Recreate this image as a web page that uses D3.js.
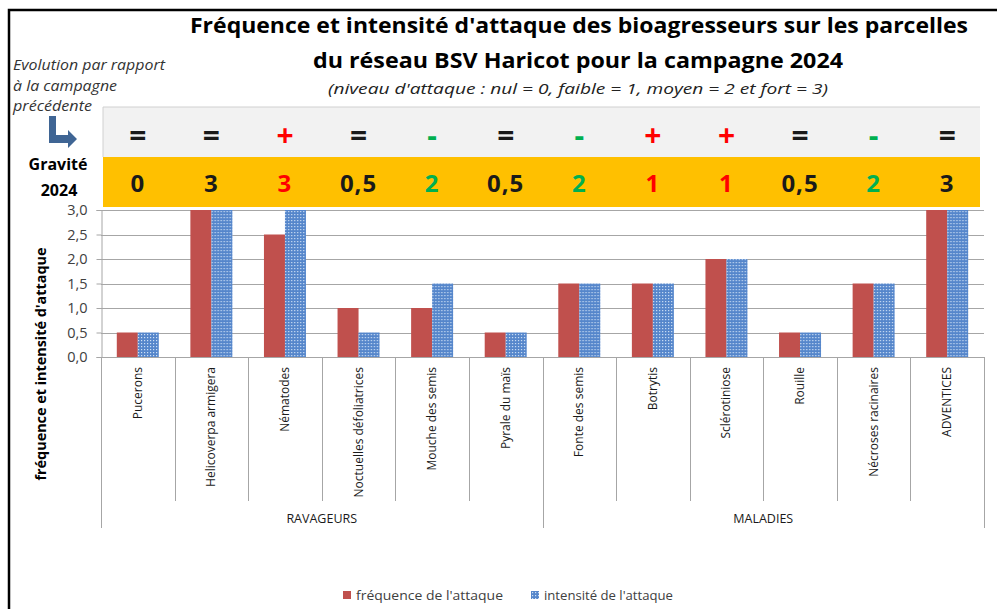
<!DOCTYPE html>
<html><head><meta charset="utf-8">
<script src="https://cdn.jsdelivr.net/npm/d3@7"></script>
<style>
html,body{margin:0;padding:0;background:#fff;}
svg{display:block;font-family:"Open Sans",sans-serif;}
</style></head>
<body>
<svg id="chart" width="997" height="609"></svg>
<script>
const categories = ["Pucerons","Helicoverpa armigera","Nématodes","Noctuelles défoliatrices","Mouche des semis","Pyrale du maïs","Fonte des semis","Botrytis","Sclérotiniose","Rouille","Nécroses racinaires","ADVENTICES"];
const frequence = [0.5,3,2.5,1,1,0.5,1.5,1.5,2,0.5,1.5,3];
const intensite = [0.5,3,3,0.5,1.5,0.5,1.5,1.5,2,0.5,1.5,3];
const evolution = ["=","=","+","=","-","=","-","+","+","=","-","="];
const gravite = ["0","3","3","0,5","2","0,5","2","1","1","0,5","2","3"];
const groups = [{name:"RAVAGEURS", from:0, to:6},{name:"MALADIES", from:6, to:12}];
const seriesNames = ["fréquence de l'attaque","intensité de l'attaque"];
const yTicks = [0,0.5,1,1.5,2,2.5,3];

const svg = d3.select("#chart");
const defs = svg.append("defs");
const pat = defs.append("pattern").attr("id","dots").attr("patternUnits","userSpaceOnUse")
  .attr("width",3).attr("height",3);
pat.append("rect").attr("width",3).attr("height",3).attr("fill","#5586cb");
pat.append("rect").attr("x",1).attr("y",1).attr("width",1.2).attr("height",1.2).attr("fill","#cfe0f5");

const evoColor = s => s==="+" ? "#ff0000" : (s==="-" ? "#00b050" : "#1a1a1a");
const colors = ["#c0504d","url(#dots)"];

// frame
svg.append("path").attr("d","M9,609 L9,10 L997,10").attr("fill","none").attr("stroke","#000").attr("stroke-width",2.5);

// scales
const x = d3.scaleBand().domain(categories).range([101,984]).padding(0);
const x1 = d3.scaleBand().domain([0,1]).range([0,x.bandwidth()]).paddingInner(0).paddingOuter(0.752);
const y = d3.scaleLinear().domain([0,3]).range([357,210]);

// title
const title = svg.append("g").attr("fill","#000");
title.append("text").attr("x",579).attr("y",33).attr("text-anchor","middle")
  .attr("font-size",21).attr("font-weight","bold").attr("textLength",778).attr("lengthAdjust","spacingAndGlyphs")
  .text("Fréquence et intensité d'attaque des bioagresseurs sur les parcelles");
title.append("text").attr("x",578).attr("y",68).attr("text-anchor","middle")
  .attr("font-size",21).attr("font-weight","bold").attr("textLength",530).attr("lengthAdjust","spacingAndGlyphs")
  .text("du réseau BSV Haricot pour la campagne 2024");
title.append("text").attr("x",578).attr("y",94).attr("text-anchor","middle")
  .attr("font-size",15).attr("font-style","italic").attr("fill","#222").attr("textLength",500).attr("lengthAdjust","spacingAndGlyphs")
  .text("(niveau d'attaque : nul = 0, faible = 1, moyen = 2 et fort = 3)");

// left notes
const note = svg.append("g").attr("font-size",14).attr("font-style","italic").attr("fill","#333").attr("lengthAdjust","spacingAndGlyphs");
note.append("text").attr("x",13).attr("y",70).attr("textLength",152).attr("lengthAdjust","spacingAndGlyphs").text("Evolution par rapport");
note.append("text").attr("x",13).attr("y",91).attr("textLength",104).attr("lengthAdjust","spacingAndGlyphs").text("à la campagne");
note.append("text").attr("x",13).attr("y",111).attr("textLength",79).attr("lengthAdjust","spacingAndGlyphs").text("précédente");
svg.append("path").attr("d","M49,116 L56,116 L56,135 L68,135 L68,130 L77,139 L68,148 L68,143 L49,143 Z").attr("fill","#3f6594");
svg.append("text").attr("x",58).attr("y",170).attr("text-anchor","middle").attr("font-size",16).attr("font-weight","bold").text("Gravité");
svg.append("text").attr("x",59).attr("y",196).attr("text-anchor","middle").attr("font-size",16).attr("font-weight","bold").text("2024");

// bands
svg.append("rect").attr("x",103).attr("y",107).attr("width",877).attr("height",50).attr("fill","#f2f2f2");
svg.append("path").attr("d","M103,157 L103,107 L980,107").attr("fill","none").attr("stroke","#d0d0d0").attr("stroke-width",1);
svg.append("rect").attr("x",103).attr("y",157).attr("width",877).attr("height",50).attr("fill","#ffc000");

svg.append("g").selectAll("text").data(categories).join("text")
  .attr("x",d=>x(d)+x.bandwidth()/2).attr("y",146)
  .attr("text-anchor","middle").attr("font-weight","bold").attr("font-size",30)
  .attr("fill",(d,i)=>evoColor(evolution[i]))
  .text((d,i)=>evolution[i]);

svg.append("g").selectAll("text").data(categories).join("text")
  .attr("x",d=>x(d)+x.bandwidth()/2).attr("y",192)
  .attr("text-anchor","middle").attr("font-weight","bold").attr("font-size",24)
  .attr("letter-spacing",1)
  .attr("fill",(d,i)=>evoColor(evolution[i]))
  .text((d,i)=>gravite[i]);

// gridlines
svg.append("g").selectAll("line").data(yTicks).join("line")
  .attr("x1",101).attr("x2",984).attr("y1",d=>Math.round(y(d))+0.5).attr("y2",d=>Math.round(y(d))+0.5)
  .attr("stroke","#a6a6a6").attr("stroke-width",1);

// y axis
const yAxis = d3.axisLeft(y).tickValues(yTicks).tickSize(5).tickPadding(9)
  .tickFormat(d=>d3.format(".1f")(d).replace(".",","));
const ya = svg.append("g").attr("transform","translate(101.5,0)").call(yAxis);
ya.select(".domain").attr("stroke","#a6a6a6");
ya.selectAll(".tick line").attr("stroke","#a6a6a6");
ya.selectAll(".tick text").attr("font-size",14.5).attr("fill","#404040").attr("font-family","Open Sans, sans-serif");

svg.append("text").attr("transform","translate(46,364) rotate(-90)").attr("text-anchor","middle")
  .attr("font-size",14).attr("font-weight","bold").attr("textLength",233).attr("lengthAdjust","spacingAndGlyphs")
  .text("fréquence et intensité d'attaque");

// bars
const data = categories.map((c,i)=>[{c,s:0,v:frequence[i]},{c,s:1,v:intensite[i]}]);
svg.append("g").selectAll("g").data(data).join("g")
  .attr("transform",d=>`translate(${x(d[0].c)},0)`)
  .selectAll("rect").data(d=>d).join("rect")
  .attr("x",d=>x1(d.s)).attr("width",x1.bandwidth())
  .attr("y",d=>y(d.v)).attr("height",d=>y(0)-y(d.v))
  .attr("fill",d=>colors[d.s]);

// category dividers
const bounds = d3.range(categories.length+1).map(i=> i<categories.length ? x(categories[i]) : x(categories[i-1])+x.bandwidth());
const groupEdges = [0,6,12];
svg.append("g").selectAll("line").data(bounds).join("line")
  .attr("x1",d=>Math.round(d)+0.5).attr("x2",d=>Math.round(d)+0.5)
  .attr("y1",357).attr("y2",(d,i)=>groupEdges.includes(i)?528:501)
  .attr("stroke","#a6a6a6").attr("stroke-width",1);

// category labels
svg.append("g").selectAll("text").data(categories).join("text")
  .attr("transform",d=>`translate(${x(d)+x.bandwidth()/2+4},367) rotate(-90)`)
  .attr("text-anchor","end").attr("font-size",12).attr("fill","#1a1a1a")
  .text(d=>d);

// group labels
svg.append("g").selectAll("text").data(groups).join("text")
  .attr("x",g=>(bounds[g.from]+bounds[g.to])/2).attr("y",523)
  .attr("text-anchor","middle").attr("font-size",12.5).attr("fill","#1a1a1a")
  .text(g=>g.name);

// legend
const legX = [343,531];
const legW = [147,129];
const leg = svg.append("g").selectAll("g").data(seriesNames).join("g")
  .attr("transform",(d,i)=>`translate(${legX[i]},591)`);
leg.append("rect").attr("width",8).attr("height",8).attr("fill",(d,i)=>colors[i]);
leg.append("text").attr("x",13).attr("y",9).attr("font-size",13).attr("fill","#404040")
  .attr("textLength",(d,i)=>legW[i]).attr("lengthAdjust","spacingAndGlyphs").text(d=>d);
</script>
</body></html>
